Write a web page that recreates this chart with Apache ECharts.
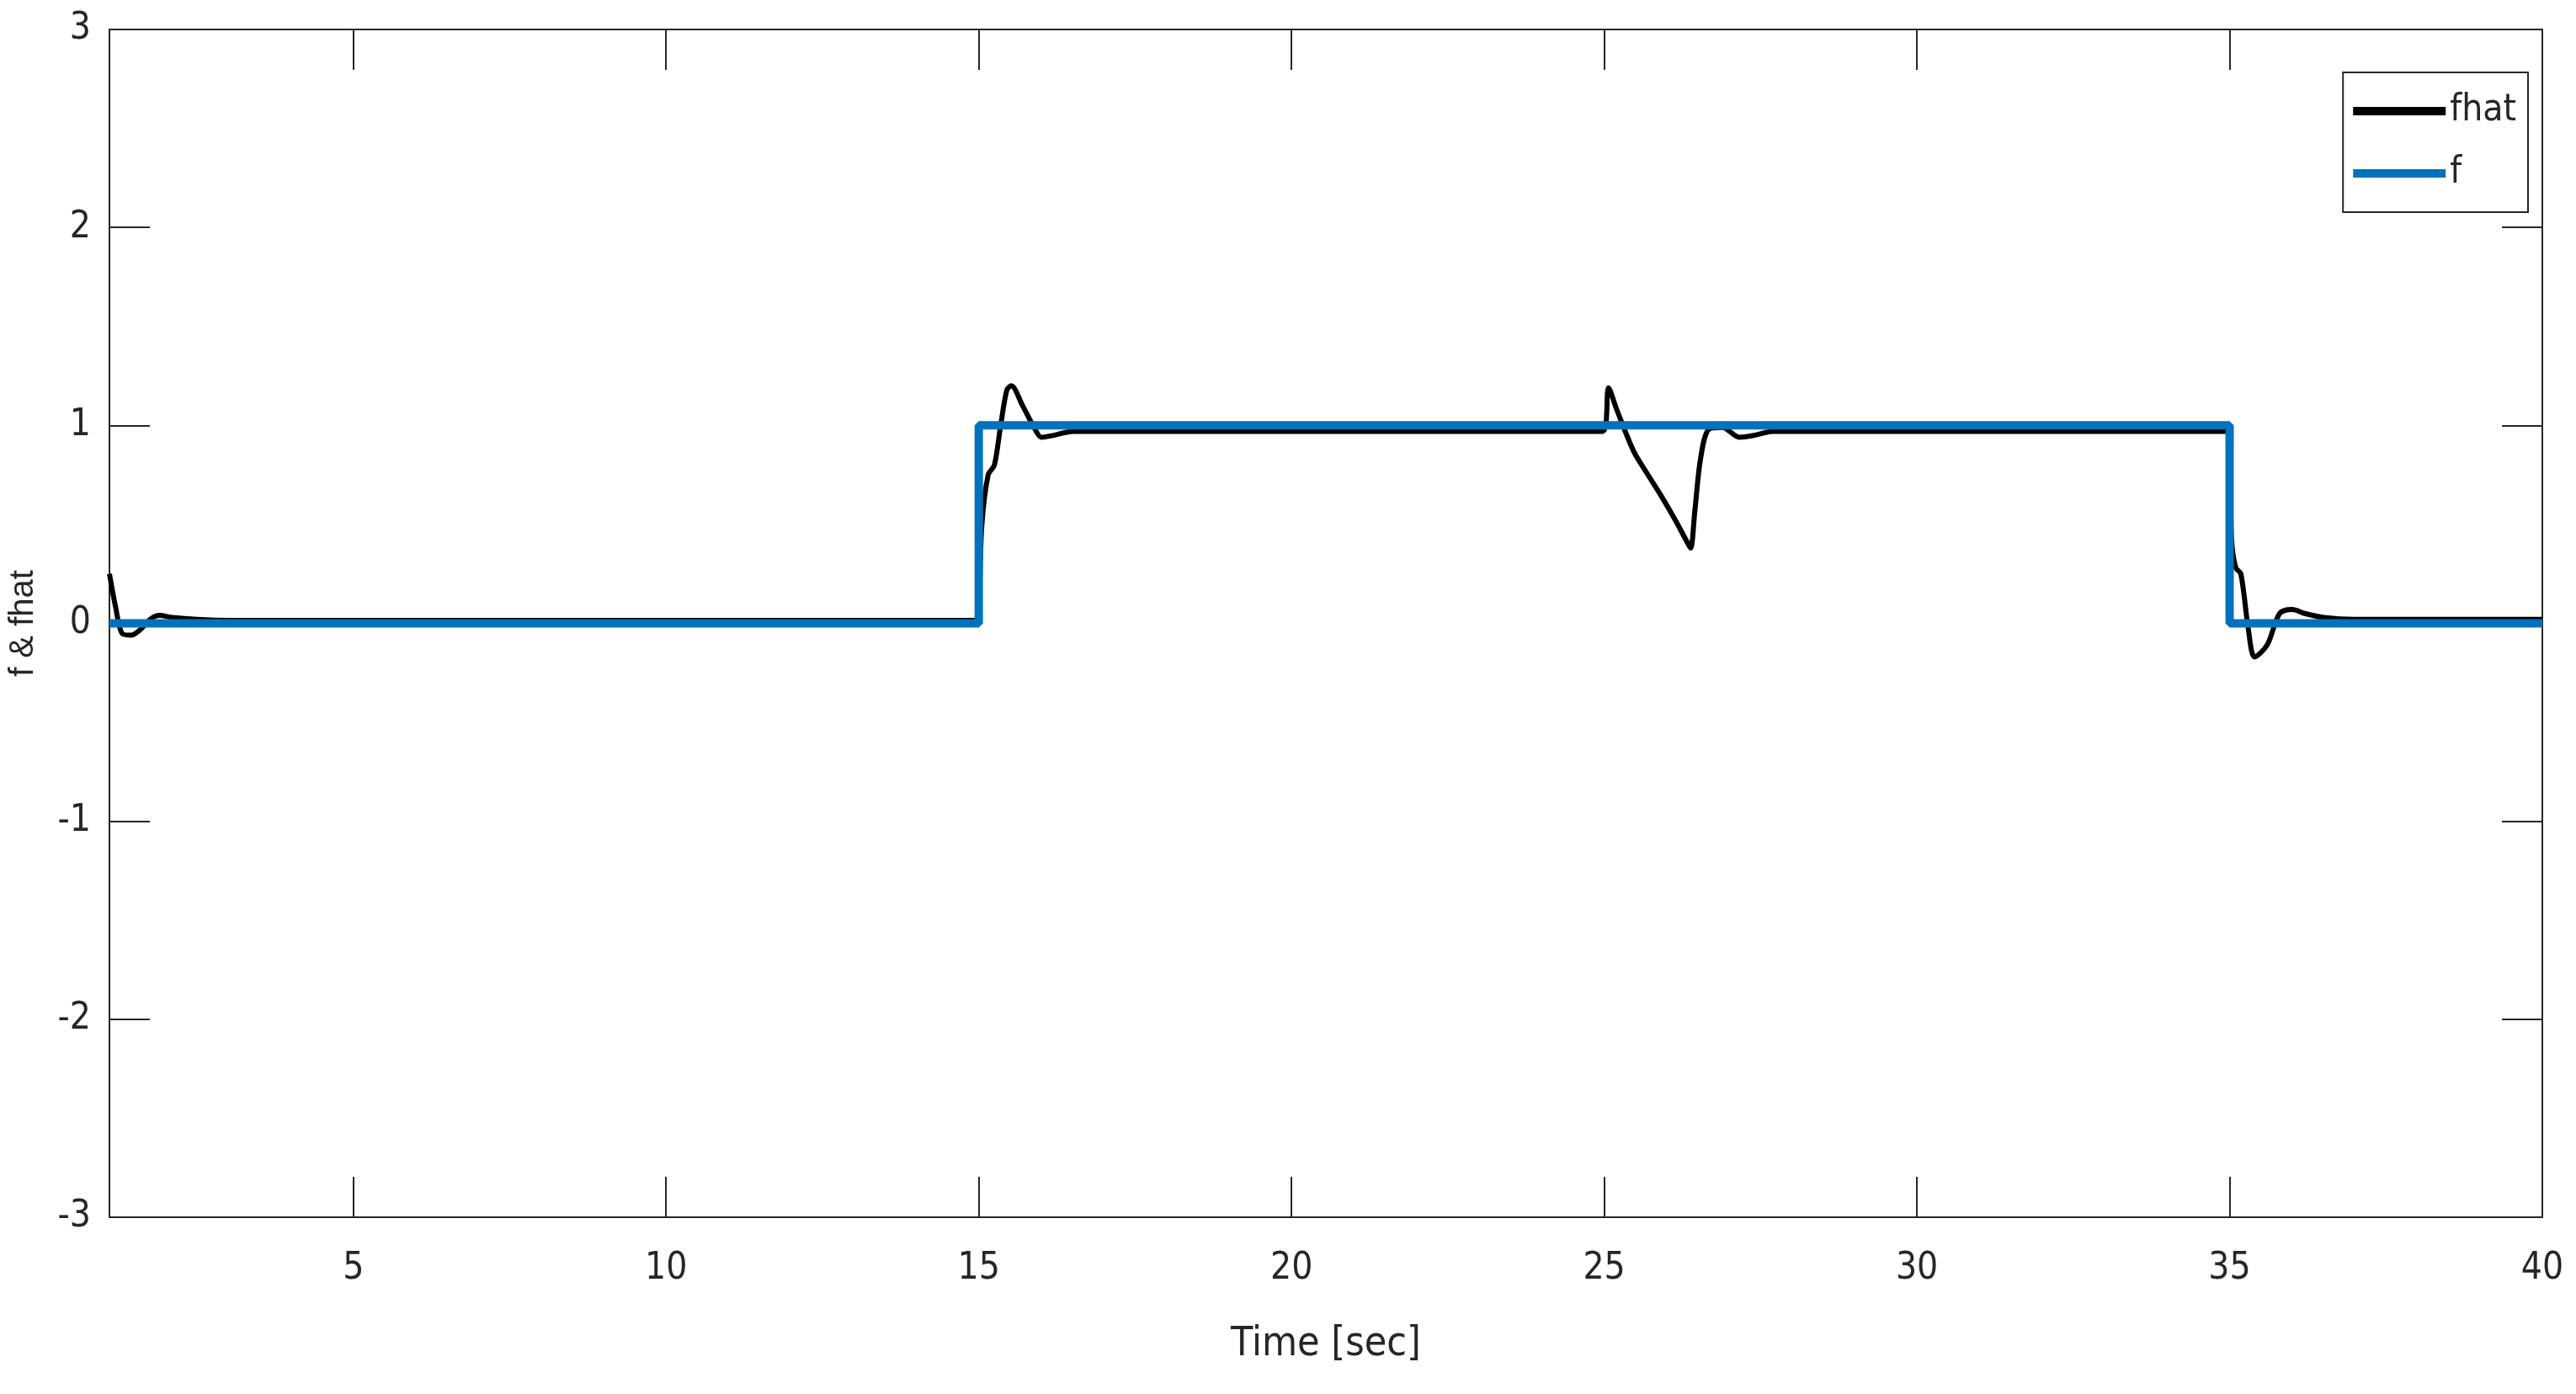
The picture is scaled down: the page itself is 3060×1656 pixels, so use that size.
<!DOCTYPE html>
<html><head><meta charset="utf-8">
<script src="https://cdn.jsdelivr.net/npm/echarts@6/dist/echarts.min.js"></script>
<style>html,body{margin:0;background:#fff}#c{width:3060px;height:1656px}</style>
</head><body><div id="c"></div>
<script>
const fhatT = [1.1,1.2,1.3,1.45,1.6,1.75,1.9,2.1,2.5,3,5,10,14.95,
  15.0,15.05,15.15,15.25,15.35,15.45,15.52,15.7,15.9,16.0,16.2,16.5,17,20,24.98,
  25.07,25.2,25.47,25.68,25.9,26.14,26.31,26.38,26.45,26.54,26.67,26.89,27.16,27.4,27.69,28,30,34.97,
  35.0,35.04,35.1,35.18,35.3,35.4,35.6,35.8,36.0,36.2,36.5,37,38,40];
const fhatV = [0.25,0.08,-0.05,-0.06,-0.03,0.02,0.04,0.03,0.02,0.015,0.015,0.015,0.015,
  0.1,0.5,0.75,0.8,1.0,1.18,1.2,1.1,0.98,0.94,0.95,0.97,0.97,0.97,0.97,
  1.19,1.08,0.87,0.76,0.65,0.52,0.42,0.38,0.57,0.83,0.98,0.99,0.94,0.95,0.97,0.97,0.97,0.97,
  0.65,0.39,0.28,0.25,-0.03,-0.17,-0.11,0.05,0.07,0.05,0.03,0.02,0.02,0.02];
const fT = [1.1,15,15,25,35,35,40];
const fV = [0,0,1,1,1,0,0];
const xTicks = [5,10,15,20,25,30,35,40];
const yTicks = [-3,-2,-1,0,1,2,3];

const zip = (a,b)=>a.map((v,i)=>[v,b[i]]);
const FN = '"DejaVu Sans Condensed","Liberation Sans",sans-serif';
const ax = {onZero:false,lineStyle:{color:'#262626',width:2}};
const tick = {inside:true,length:48,lineStyle:{color:'#262626',width:2}};
const chart = echarts.init(document.getElementById('c'));
chart.setOption({
  animation:false,
  grid:{left:127,right:40,top:35,bottom:210},
  legend:{orient:'vertical',right:57,top:86,width:198,itemWidth:110,itemHeight:10,itemGap:30,
    padding:[24,14,24,12],borderColor:'#262626',borderWidth:2,backgroundColor:'#fff',
    textStyle:{fontFamily:FN,fontSize:44,color:'#262626'},
    data:[{name:'fhat',icon:'rect'},{name:'f',icon:'rect'}]},
  xAxis:[{type:'value',min:1.1,max:40,axisLine:ax,
    axisTick:Object.assign({customValues:xTicks},tick),
    axisLabel:{customValues:xTicks,fontFamily:FN,fontSize:44,color:'#262626',margin:40},
    splitLine:{show:false},name:'Time [sec]',nameLocation:'middle',nameGap:128,
    nameTextStyle:{fontFamily:FN,fontSize:48,color:'#262626'}},
    {type:'value',position:'top',min:1.1,max:40,axisLine:ax,
    axisTick:Object.assign({customValues:xTicks},tick),axisLabel:{show:false},splitLine:{show:false}}],
  yAxis:[{type:'value',min:-3,max:3,interval:1,axisLine:ax,axisTick:tick,
    axisLabel:{fontFamily:FN,fontSize:44,color:'#262626',margin:22},splitLine:{show:false},
    name:'f & fhat',nameLocation:'middle',nameGap:82,
    nameTextStyle:{fontFamily:'"Liberation Sans",sans-serif',fontSize:40,color:'#262626'}},
    {type:'value',position:'right',min:-3,max:3,interval:1,axisLine:ax,axisTick:tick,
    axisLabel:{show:false},splitLine:{show:false}}],
  series:[
    {name:'fhat',type:'line',smooth:0.3,showSymbol:false,data:zip(fhatT,fhatV),
      color:'#000',lineStyle:{color:'#000',width:6},z:3},
    {name:'f',type:'line',showSymbol:false,data:zip(fT,fV),
      color:'#0072BD',lineStyle:{color:'#0072BD',width:10},z:4}
  ]
});
</script></body></html>
